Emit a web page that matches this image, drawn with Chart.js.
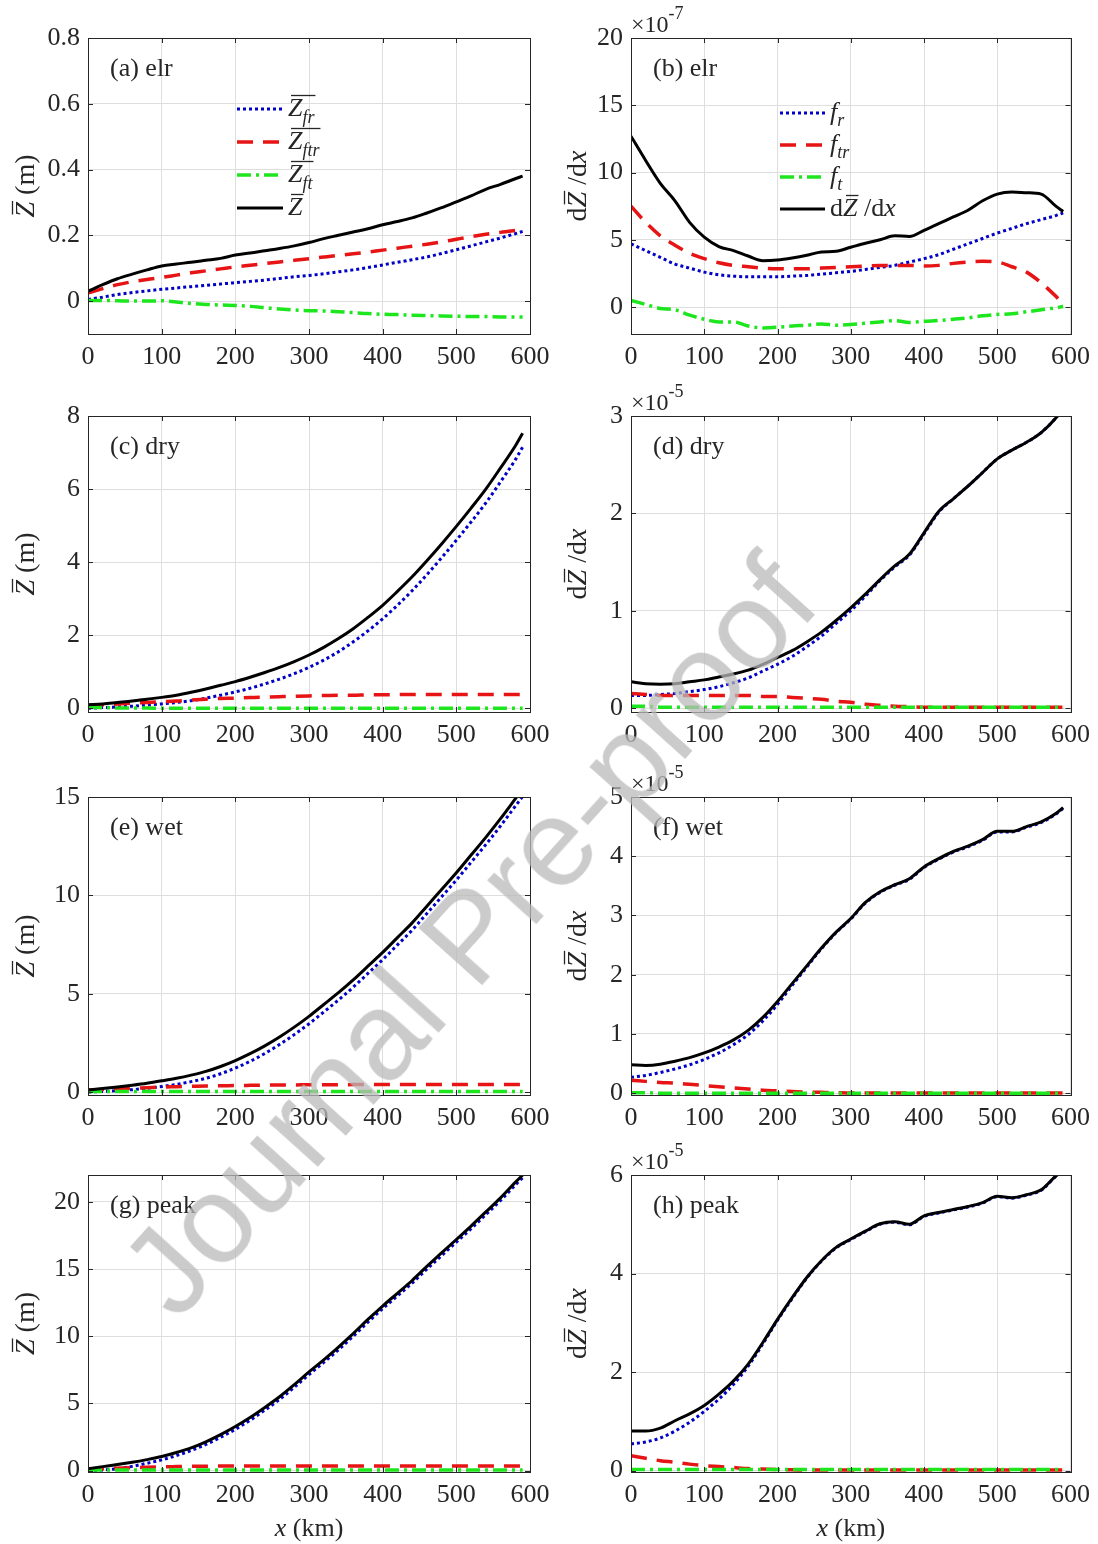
<!DOCTYPE html>
<html>
<head>
<meta charset="utf-8">
<title>Zbar and dZbar/dx along x</title>
<script src="https://cdn.jsdelivr.net/npm/chart.js@4.4.1/dist/chart.umd.min.js"></script>
<style>
  html, body { margin: 0; padding: 0; background: #fff; }
  #page { position: relative; width: 1098px; height: 1544px; overflow: hidden; }
  #page canvas { position: absolute; }
  #wm {
    position: absolute; left: 468px; top: 935px;
    transform: translate(-50%, -50%) rotate(-48deg);
    font: 125px "Liberation Sans", Arial, sans-serif;
    color: rgba(185, 185, 185, 0.75);
    white-space: nowrap; line-height: 1; pointer-events: none;
  }
</style>
</head>
<body>
<div id="page"><div id="wm">Journal Pre-proof</div></div>
<script>
// x positions (km), shared by every panel
const X = [0, 20, 40, 60, 80, 100, 120, 140, 160, 180, 200, 220, 240, 260, 280, 300,
           320, 340, 360, 380, 400, 420, 440, 460, 480, 500, 520, 540, 560, 580, 590];
const xTicks = [0, 100, 200, 300, 400, 500, 600];

// (a) elr, Zbar (m)
const aFr  = [0.005, 0.012, 0.02, 0.026, 0.031, 0.036, 0.040, 0.044, 0.048, 0.052, 0.056, 0.060, 0.064, 0.069, 0.074, 0.078,
              0.083, 0.089, 0.095, 0.102, 0.110, 0.118, 0.126, 0.134, 0.145, 0.156, 0.168, 0.180, 0.192, 0.205, 0.212];
const aFtr = [0.025, 0.038, 0.05, 0.059, 0.066, 0.072, 0.079, 0.086, 0.092, 0.098, 0.104, 0.109, 0.114, 0.119, 0.124, 0.129,
              0.134, 0.139, 0.144, 0.149, 0.155, 0.161, 0.167, 0.173, 0.180, 0.188, 0.196, 0.203, 0.209, 0.215, 0.219];
const aFt  = [0.002, 0.002, 0.001, 0.0, 0.0, 0.001, -0.003, -0.007, -0.010, -0.012, -0.013, -0.016, -0.020, -0.024, -0.027, -0.029,
              -0.030, -0.032, -0.035, -0.038, -0.040, -0.041, -0.043, -0.044, -0.045, -0.046, -0.047, -0.047, -0.048, -0.048, -0.048];
const aZ   = [0.03, 0.05, 0.068, 0.082, 0.095, 0.107, 0.113, 0.118, 0.124, 0.130, 0.140, 0.146, 0.153, 0.160, 0.168, 0.178,
              0.190, 0.200, 0.210, 0.220, 0.232, 0.242, 0.253, 0.268, 0.284, 0.302, 0.320, 0.340, 0.355, 0.372, 0.380];
const aLim = [-0.1, 0.8];
const aTicks = [0, 0.2, 0.4, 0.6, 0.8];

// (b) elr, dZbar/dx (x1e-7)
const bFr  = [4.7, 4.2, 3.7, 3.2, 2.9, 2.6, 2.4, 2.3, 2.25, 2.25, 2.25, 2.3, 2.35, 2.45, 2.55, 2.65,
              2.8, 2.95, 3.1, 3.35, 3.6, 3.9, 4.3, 4.7, 5.1, 5.5, 5.85, 6.2, 6.5, 6.8, 7.0];
const bFtr = [7.5, 6.3, 5.3, 4.6, 4.0, 3.6, 3.3, 3.1, 3.0, 2.9, 2.85, 2.85, 2.85, 2.9, 2.95, 3.0,
              3.05, 3.1, 3.1, 3.1, 3.05, 3.1, 3.25, 3.35, 3.4, 3.35, 3.0, 2.6, 1.8, 0.8, 0.2];
const bFt  = [0.5, 0.2, -0.1, -0.2, -0.6, -0.9, -1.1, -1.1, -1.4, -1.55, -1.5, -1.4, -1.35, -1.25, -1.35, -1.3,
              -1.2, -1.1, -1.0, -1.15, -1.05, -1.0, -0.9, -0.8, -0.65, -0.55, -0.5, -0.35, -0.2, -0.05, 0.05];
const bZ   = [12.7, 10.9, 9.2, 7.9, 6.3, 5.2, 4.5, 4.2, 3.8, 3.45, 3.5, 3.65, 3.85, 4.1, 4.15, 4.45,
              4.75, 5.0, 5.3, 5.25, 5.7, 6.2, 6.7, 7.2, 7.9, 8.4, 8.55, 8.5, 8.4, 7.5, 7.1];
const bLim = [-2, 20];
const bTicks = [0, 5, 10, 15, 20];

// (c) dry, Zbar (m)
const cFr  = [0.0, 0.02, 0.04, 0.06, 0.09, 0.12, 0.16, 0.21, 0.28, 0.36, 0.45, 0.55, 0.67, 0.8, 0.95, 1.12,
              1.32, 1.55, 1.82, 2.12, 2.45, 2.82, 3.22, 3.66, 4.12, 4.6, 5.1, 5.62, 6.2, 6.8, 7.15];
const cFtr = [0.08, 0.1, 0.12, 0.14, 0.16, 0.18, 0.2, 0.23, 0.25, 0.27, 0.28, 0.3, 0.31, 0.32, 0.33, 0.34,
              0.35, 0.36, 0.36, 0.37, 0.37, 0.375, 0.38, 0.38, 0.38, 0.38, 0.38, 0.38, 0.38, 0.38, 0.38];
const cFt  = [0.02, 0.02, 0.01, 0.01, 0.01, 0.0, 0.0, 0.0, 0.0, 0.0, 0.0, 0.0, 0.0, 0.0, 0.0, 0.0,
              0.0, 0.0, 0.0, 0.0, 0.0, 0.0, 0.0, 0.0, 0.0, 0.0, 0.0, 0.0, 0.0, 0.0, 0.0];
const cZ   = [0.1, 0.12, 0.16, 0.2, 0.25, 0.3, 0.36, 0.44, 0.53, 0.63, 0.73, 0.85, 0.98, 1.12, 1.28, 1.46,
              1.67, 1.91, 2.18, 2.49, 2.82, 3.2, 3.6, 4.04, 4.5, 4.98, 5.48, 6.0, 6.58, 7.18, 7.53];
const cLim = [-0.1, 8];
const cTicks = [0, 2, 4, 6, 8];

// (d) dry, dZbar/dx (x1e-5)
const dFr  = [0.13, 0.13, 0.14, 0.15, 0.17, 0.19, 0.22, 0.26, 0.31, 0.38, 0.45, 0.53, 0.63, 0.74, 0.87, 1.0,
              1.15, 1.31, 1.45, 1.57, 1.79, 2.01, 2.15, 2.28, 2.42, 2.56, 2.65, 2.73, 2.83, 2.98, 3.08];
const dFtr = [0.15, 0.14, 0.13, 0.13, 0.13, 0.13, 0.13, 0.13, 0.13, 0.12, 0.12, 0.11, 0.1, 0.09, 0.07, 0.06,
              0.04, 0.03, 0.02, 0.015, 0.01, 0.01, 0.01, 0.01, 0.01, 0.01, 0.01, 0.01, 0.01, 0.01, 0.01];
const dFt  = [0.02, 0.02, 0.01, 0.01, 0.01, 0.01, 0.01, 0.01, 0.01, 0.01, 0.01, 0.01, 0.01, 0.01, 0.01, 0.01,
              0.01, 0.01, 0.01, 0.01, 0.01, 0.01, 0.01, 0.01, 0.01, 0.01, 0.01, 0.01, 0.01, 0.01, 0.01];
const dZ   = [0.27, 0.25, 0.245, 0.25, 0.27, 0.29, 0.32, 0.35, 0.39, 0.45, 0.52, 0.59, 0.68, 0.78, 0.9, 1.03,
              1.17, 1.32, 1.46, 1.58, 1.8, 2.02, 2.15, 2.28, 2.42, 2.56, 2.65, 2.73, 2.83, 2.98, 3.08];
const dLim = [-0.04, 3];
const dTicks = [0, 1, 2, 3];

// (e) wet, Zbar (m)
const eFr  = [0.0, 0.03, 0.07, 0.12, 0.19, 0.28, 0.39, 0.53, 0.7, 0.93, 1.22, 1.56, 1.96, 2.42, 2.92, 3.47,
              4.07, 4.68, 5.33, 6.03, 6.73, 7.48, 8.23, 9.08, 9.93, 10.78, 11.68, 12.58, 13.53, 14.53, 15.03];
const eFtr = [0.1, 0.13, 0.16, 0.19, 0.22, 0.25, 0.27, 0.29, 0.31, 0.32, 0.33, 0.34, 0.35, 0.36, 0.36, 0.37,
              0.37, 0.37, 0.38, 0.38, 0.38, 0.38, 0.38, 0.38, 0.38, 0.38, 0.38, 0.38, 0.38, 0.38, 0.38];
const eFt  = [0.03, 0.03, 0.03, 0.03, 0.03, 0.03, 0.03, 0.03, 0.03, 0.03, 0.03, 0.03, 0.03, 0.03, 0.03, 0.03,
              0.03, 0.03, 0.03, 0.03, 0.03, 0.03, 0.03, 0.03, 0.03, 0.03, 0.03, 0.03, 0.03, 0.03, 0.03];
const eZ   = [0.1, 0.18, 0.26, 0.35, 0.45, 0.57, 0.7, 0.86, 1.05, 1.3, 1.6, 1.95, 2.35, 2.8, 3.3, 3.85,
              4.45, 5.05, 5.7, 6.4, 7.1, 7.85, 8.6, 9.45, 10.3, 11.15, 12.05, 12.95, 13.9, 14.9, 15.4];
const eLim = [-0.15, 15];
const eTicks = [0, 5, 10, 15];

// (f) wet, dZbar/dx (x1e-5)
const fFr  = [0.27, 0.3, 0.35, 0.41, 0.48, 0.57, 0.68, 0.82, 0.99, 1.22, 1.5, 1.82, 2.13, 2.44, 2.71, 2.94,
              3.21, 3.39, 3.51, 3.61, 3.81, 3.95, 4.07, 4.16, 4.27, 4.41, 4.41, 4.49, 4.57, 4.71, 4.81];
const fFtr = [0.22, 0.2, 0.18, 0.17, 0.15, 0.13, 0.11, 0.09, 0.07, 0.05, 0.04, 0.03, 0.02, 0.015, 0.01, 0.005,
              0.005, 0.005, 0.005, 0.005, 0.005, 0.005, 0.005, 0.005, 0.005, 0.005, 0.005, 0.005, 0.005, 0.005, 0.005];
const fFt  = [0.01, 0.01, 0.0, 0.0, 0.0, 0.0, 0.0, 0.0, 0.0, 0.0, 0.0, 0.0, 0.0, 0.0, 0.0, 0.0,
              0.0, 0.0, 0.0, 0.0, 0.0, 0.0, 0.0, 0.0, 0.0, 0.0, 0.0, 0.0, 0.0, 0.0, 0.0];
const fZ   = [0.48, 0.47, 0.49, 0.54, 0.6, 0.68, 0.78, 0.9, 1.06, 1.28, 1.55, 1.85, 2.15, 2.45, 2.72, 2.95,
              3.22, 3.4, 3.52, 3.62, 3.82, 3.96, 4.08, 4.17, 4.28, 4.42, 4.42, 4.5, 4.58, 4.72, 4.82];
const fLim = [-0.03, 5];
const fTicks = [0, 1, 2, 3, 4, 5];

// (g) peak, Zbar (m)
const gFr  = [0.0, 0.05, 0.15, 0.32, 0.55, 0.8, 1.12, 1.5, 1.95, 2.48, 3.08, 3.75, 4.5, 5.3, 6.2, 7.15,
              8.05, 9.0, 10.0, 11.05, 12.05, 13.0, 13.95, 15.0, 16.0, 17.0, 18.0, 19.05, 20.1, 21.25, 21.8];
const gFtr = [0.1, 0.14, 0.18, 0.22, 0.26, 0.28, 0.3, 0.32, 0.33, 0.34, 0.34, 0.35, 0.35, 0.35, 0.35, 0.35,
              0.35, 0.35, 0.35, 0.35, 0.35, 0.35, 0.35, 0.35, 0.35, 0.35, 0.35, 0.35, 0.35, 0.35, 0.35];
const gFt  = [0.05, 0.05, 0.05, 0.05, 0.05, 0.05, 0.05, 0.05, 0.05, 0.05, 0.05, 0.05, 0.05, 0.05, 0.05, 0.05,
              0.05, 0.05, 0.05, 0.05, 0.05, 0.05, 0.05, 0.05, 0.05, 0.05, 0.05, 0.05, 0.05, 0.05, 0.05];
const gZ   = [0.15, 0.3, 0.45, 0.62, 0.82, 1.05, 1.35, 1.7, 2.15, 2.68, 3.28, 3.95, 4.7, 5.5, 6.4, 7.35,
              8.25, 9.2, 10.2, 11.25, 12.25, 13.2, 14.15, 15.2, 16.2, 17.2, 18.2, 19.25, 20.3, 21.45, 22.0];
const gLim = [-0.1, 22];
const gTicks = [0, 5, 10, 15, 20];

// (h) peak, dZbar/dx (x1e-5)
const hFr  = [0.54, 0.58, 0.66, 0.8, 0.98, 1.2, 1.45, 1.75, 2.12, 2.57, 3.05, 3.49, 3.91, 4.25, 4.52, 4.69,
              4.85, 5.0, 5.04, 4.99, 5.16, 5.23, 5.29, 5.35, 5.43, 5.56, 5.53, 5.59, 5.69, 5.97, 6.07];
const hFtr = [0.3, 0.25, 0.2, 0.17, 0.13, 0.1, 0.08, 0.06, 0.04, 0.03, 0.02, 0.015, 0.01, 0.01, 0.01, 0.01,
              0.01, 0.01, 0.01, 0.01, 0.01, 0.01, 0.01, 0.01, 0.01, 0.01, 0.01, 0.01, 0.01, 0.01, 0.01];
const hFt  = [0.02, 0.02, 0.02, 0.02, 0.02, 0.02, 0.02, 0.02, 0.02, 0.02, 0.02, 0.02, 0.02, 0.02, 0.02, 0.02,
              0.02, 0.02, 0.02, 0.02, 0.02, 0.02, 0.02, 0.02, 0.02, 0.02, 0.02, 0.02, 0.02, 0.02, 0.02];
const hZ   = [0.8, 0.8, 0.86, 1.01, 1.15, 1.32, 1.55, 1.82, 2.16, 2.6, 3.07, 3.51, 3.92, 4.26, 4.53, 4.7,
              4.86, 5.01, 5.05, 5.0, 5.17, 5.24, 5.3, 5.36, 5.44, 5.57, 5.54, 5.6, 5.7, 5.98, 6.08];
const hLim = [-0.03, 6];
const hTicks = [0, 2, 4, 6];

// line styles, in legend order: fr (dotted), ftr (dashed), ft (dash-dot), total (solid)
const STYLES = [
  { color: "#0000c8", dash: [3, 3], width: 3, order: 4 },
  { color: "#e61414", dash: [16, 10], width: 3.5, order: 3 },
  { color: "#1ee61e", dash: [14, 5, 3, 5], width: 3.5, order: 2 },
  { color: "#000000", dash: [], width: 3, order: 1 },
];

const SERIF = '"Liberation Serif", "Times New Roman", serif';
const FS = 26;      // ticks, tags, legend
const FS_T = 28;    // y axis titles
const INK = "#262626";
const GRID = "#dedede";

// plot-box geometry of the 4x2 grid (page pixels)
const ROW_TOP = [38, 416, 797, 1175];
const ROW_BOT = [334, 712, 1095, 1472];
const COL_X0 = [0, 549];
const COL_W = [560, 549];
const COL_LEFT = [88, 631];
const COL_RIGHT = [530, 1073];

const PANELS = [
  { row: 0, col: 0, name: "(a) elr",  lim: aLim, ticks: aTicks, series: [aFr, aFtr, aFt, aZ], legend: "Z" },
  { row: 0, col: 1, name: "(b) elr",  lim: bLim, ticks: bTicks, series: [bFr, bFtr, bFt, bZ], legend: "f", exp: "-7" },
  { row: 1, col: 0, name: "(c) dry",  lim: cLim, ticks: cTicks, series: [cFr, cFtr, cFt, cZ] },
  { row: 1, col: 1, name: "(d) dry",  lim: dLim, ticks: dTicks, series: [dFr, dFtr, dFt, dZ], exp: "-5" },
  { row: 2, col: 0, name: "(e) wet",  lim: eLim, ticks: eTicks, series: [eFr, eFtr, eFt, eZ] },
  { row: 2, col: 1, name: "(f) wet",  lim: fLim, ticks: fTicks, series: [fFr, fFtr, fFt, fZ], exp: "-5" },
  { row: 3, col: 0, name: "(g) peak", lim: gLim, ticks: gTicks, series: [gFr, gFtr, gFt, gZ] },
  { row: 3, col: 1, name: "(h) peak", lim: hLim, ticks: hTicks, series: [hFr, hFtr, hFt, hZ], exp: "-5" },
];

// rich text runs: {t, it, sz, dy, ov}; runs sharing an ov id get one bar over them
function fontOf(r, base) {
  return `${r.it ? "italic " : ""}${r.sz || base}px ${SERIF}`;
}
function drawRuns(ctx, runs, x, y, align, base) {
  base = base || FS;
  let w = 0;
  const placed = runs.map((r) => {
    ctx.font = fontOf(r, base);
    const rw = ctx.measureText(r.t).width;
    const p = { r, x0: w, w: rw };
    w += rw;
    return p;
  });
  const sx = align === "center" ? x - w / 2 : x;
  const bars = {};
  ctx.fillStyle = INK;
  ctx.textBaseline = "alphabetic";
  ctx.textAlign = "left";
  placed.forEach((p) => {
    ctx.font = fontOf(p.r, base);
    ctx.fillText(p.r.t, sx + p.x0, y + (p.r.dy || 0));
    if (p.r.ov) {
      const b = bars[p.r.ov] || (bars[p.r.ov] = { a: Infinity, b: -Infinity });
      b.a = Math.min(b.a, sx + p.x0);
      b.b = Math.max(b.b, sx + p.x0 + p.w);
    }
  });
  ctx.strokeStyle = INK;
  ctx.lineWidth = 1.3;
  ctx.setLineDash([]);
  Object.values(bars).forEach((b) => {
    const yy = Math.round(y - base * 0.8) + 0.5;
    ctx.beginPath();
    ctx.moveTo(b.a + 3, yy);
    ctx.lineTo(b.b + 1, yy);
    ctx.stroke();
  });
}

const zbarRuns = (sub) => sub
  ? [{ t: "Z", it: true, ov: 1 }, { t: sub, it: true, sz: 18, dy: 7, ov: 1 }]
  : [{ t: "Z", it: true, ov: 1 }];
const fRuns = (sub) => [{ t: "f", it: true }, { t: sub, it: true, sz: 18, dy: 6 }];
const dzdxRuns = [{ t: "d" }, { t: "Z", it: true, ov: 1 }, { t: " /" }, { t: "d" }, { t: "x", it: true }];

const LEGENDS = {
  Z: { rows: [109, 142, 175, 208], x0: 237, x1: 283, tx: 288,
       labels: [zbarRuns("fr"), zbarRuns("ftr"), zbarRuns("ft"), zbarRuns(null)] },
  f: { rows: [113, 145, 177, 209], x0: 780, x1: 825, tx: 830,
       labels: [fRuns("r"), fRuns("tr"), fRuns("t"), dzdxRuns] },
};

function decorPlugin(panel, offX) {
  return {
    id: "decor",
    afterDraw(chart) {
      const { ctx, chartArea: ca } = chart;
      const xs = chart.scales.x, ys = chart.scales.y;
      ctx.save();
      // box
      ctx.strokeStyle = INK;
      ctx.lineWidth = 1;
      ctx.setLineDash([]);
      ctx.strokeRect(Math.round(ca.left) + 0.5, Math.round(ca.top) + 0.5,
                     Math.round(ca.right - ca.left), Math.round(ca.bottom - ca.top));
      // inward ticks on all four sides
      ctx.beginPath();
      xTicks.forEach((v) => {
        const px = Math.round(xs.getPixelForValue(v)) + 0.5;
        ctx.moveTo(px, ca.bottom); ctx.lineTo(px, ca.bottom - 5);
        ctx.moveTo(px, ca.top); ctx.lineTo(px, ca.top + 5);
      });
      panel.ticks.forEach((v) => {
        const py = Math.round(ys.getPixelForValue(v)) + 0.5;
        ctx.moveTo(ca.left, py); ctx.lineTo(ca.left + 5, py);
        ctx.moveTo(ca.right, py); ctx.lineTo(ca.right - 5, py);
      });
      ctx.stroke();

      // panel tag
      drawRuns(ctx, [{ t: panel.name }], ca.left + 22, ca.top + 38, "left");

      // exponent above the y axis
      if (panel.exp) {
        drawRuns(ctx, [{ t: "\u00d710", sz: 24 }, { t: panel.exp, sz: 18, dy: -13 }], ca.left, ca.top - 6, "left");
      }

      // y axis title (rotated)
      ctx.save();
      ctx.translate(panel.col === 0 ? 34 : 37, (ca.top + ca.bottom) / 2);
      ctx.rotate(-Math.PI / 2);
      const yTitle = panel.col === 0 ? [{ t: "Z", it: true, ov: 1 }, { t: " (m)" }] : dzdxRuns;
      drawRuns(ctx, yTitle, 0, 0, "center", FS_T);
      ctx.restore();

      // x axis title on the bottom row
      if (panel.row === 3) {
        drawRuns(ctx, [{ t: "x", it: true }, { t: " (km)" }], (ca.left + ca.right) / 2, ca.bottom + 64, "center");
      }

      // legend, no frame
      if (panel.legend) {
        const lg = LEGENDS[panel.legend];
        lg.rows.forEach((ry, i) => {
          const st = STYLES[i];
          ctx.strokeStyle = st.color;
          ctx.lineWidth = st.width;
          ctx.setLineDash(st.dash);
          ctx.beginPath();
          ctx.moveTo(lg.x0 - offX, ry);
          ctx.lineTo(lg.x1 - offX, ry);
          ctx.stroke();
          ctx.setLineDash([]);
          drawRuns(ctx, lg.labels[i], lg.tx - offX, ry + 7, "left");
        });
      }
      ctx.restore();
    },
  };
}

function makePanel(panel) {
  const { row, col } = panel;
  const offX = COL_X0[col];
  const top = ROW_TOP[row] - 38;
  const w = COL_W[col];
  const plotH = ROW_BOT[row] - ROW_TOP[row];
  const h = row === 3 ? 1544 - top : ROW_BOT[row] - top + 50;
  const plotLeft = COL_LEFT[col] - offX;
  const padRight = w - (COL_RIGHT[col] - offX);

  const cv = document.createElement("canvas");
  cv.width = w;
  cv.height = h;
  cv.style.left = offX + "px";
  cv.style.top = top + "px";
  document.getElementById("page").insertBefore(cv, document.getElementById("wm"));

  const tickFont = { family: SERIF, size: FS };
  new Chart(cv, {
    type: "line",
    data: {
      datasets: panel.series.map((ys, i) => ({
        data: X.map((x, k) => ({ x, y: ys[k] })),
        borderColor: STYLES[i].color,
        borderWidth: STYLES[i].width,
        borderDash: STYLES[i].dash,
        order: STYLES[i].order,
        pointRadius: 0,
        fill: false,
        cubicInterpolationMode: "monotone",
      })),
    },
    options: {
      responsive: false,
      animation: false,
      devicePixelRatio: 1,
      layout: { padding: { top: 38, left: 0, right: padRight, bottom: 0 } },
      plugins: { legend: { display: false }, tooltip: { enabled: false } },
      scales: {
        x: {
          type: "linear",
          min: 0,
          max: 600,
          afterBuildTicks: (s) => { s.ticks = xTicks.map((v) => ({ value: v })); },
          afterFit: (s) => { s.height = h - 38 - plotH; },
          grid: { color: GRID, drawTicks: false },
          border: { display: false },
          ticks: { font: tickFont, color: INK, padding: 8, maxRotation: 0, autoSkip: false },
        },
        y: {
          type: "linear",
          min: panel.lim[0],
          max: panel.lim[1],
          afterBuildTicks: (s) => { s.ticks = panel.ticks.map((v) => ({ value: v })); },
          afterFit: (s) => { s.width = plotLeft; },
          grid: { color: GRID, drawTicks: false },
          border: { display: false },
          ticks: { font: tickFont, color: INK, padding: 8, autoSkip: false, callback: (v) => String(v) },
        },
      },
    },
    plugins: [decorPlugin(panel, offX)],
  });
}

PANELS.forEach(makePanel);
</script>
</body>
</html>
